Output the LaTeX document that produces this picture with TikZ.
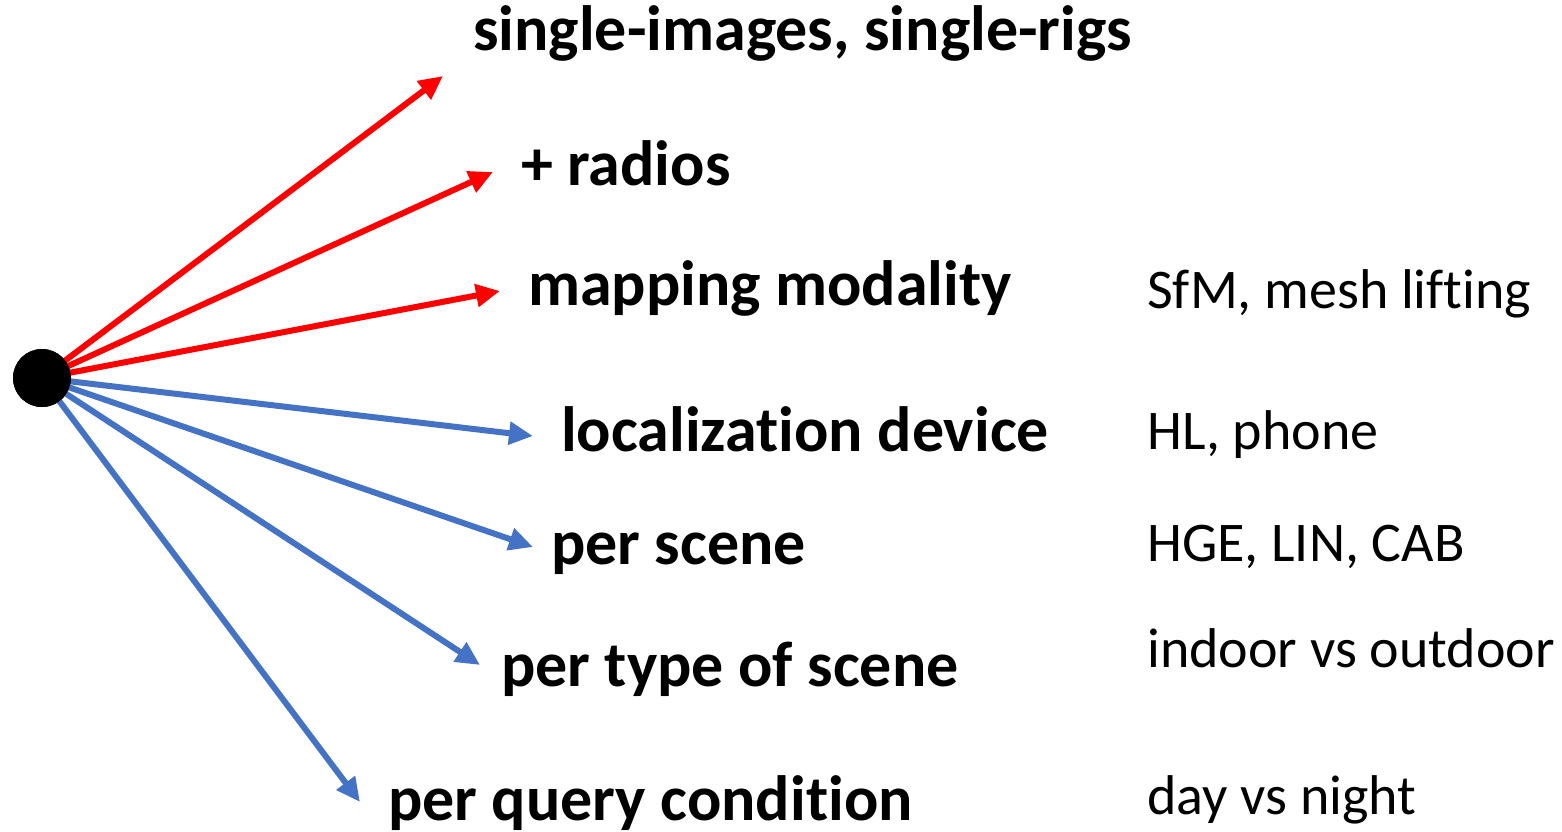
\documentclass[tikz,border=0pt]{standalone}
\usepackage{fontspec}
\setmainfont{Carlito}[Ligatures={NoCommon}]
\usetikzlibrary{arrows.meta}
\definecolor{rd}{RGB}{255,0,0}
\definecolor{bl}{RGB}{68,114,196}
\begin{document}
\begin{tikzpicture}[x=1pt,y=-1pt,
  lbl/.style={anchor=base west,inner sep=0pt,font=\fontsize{64}{76}\selectfont\bfseries},
  note/.style={anchor=base west,inner sep=0pt,font=\fontsize{56}{66}\selectfont},
  redarr/.style={draw=rd,line width=6pt,-{Triangle[length=24pt,width=22pt]}},
  bluarr/.style={draw=bl,line width=6pt,-{Triangle[length=24pt,width=22pt]}},
  dot/.style={circle,fill=black,minimum size=58pt,inner sep=0pt}]
\useasboundingbox (0,0) rectangle (1562,831);
\node[dot] (c) at (42,378) {};
\coordinate (e1) at (443,76);
\coordinate (e2) at (493,172);
\coordinate (e3) at (500,291);
\coordinate (e4) at (533,436);
\coordinate (e5) at (533,547);
\coordinate (e6) at (480,665);
\coordinate (e7) at (360,802);
\draw[redarr] (c.center) -- (e1);
\draw[redarr] (c.center) -- (e2);
\draw[redarr] (c.center) -- (e3);
\draw[bluarr] (c.center) -- (e4);
\draw[bluarr] (c.center) -- (e5);
\draw[bluarr] (c.center) -- (e6);
\draw[bluarr] (c.center) -- (e7);
\node[dot] at (c) {};
\node[lbl] (t1) at (473,50) {single-images, single-rigs};
\node[lbl] (t2) at (521,185) {+ radios};
\node[lbl] (t3) at (528,305) {mapping modality};
\node[lbl] (t4) at (561,451) {localization device};
\node[lbl] (t5) at (551,564) {per scene};
\node[lbl] (t6) at (501,686) {per type of scene};
\node[lbl] (t7) at (388,820) {per query condition};
\node[note] (n3) at (1147,308) {SfM, mesh lifting};
\node[note] (n4) at (1147,449) {HL, phone};
\node[note] (n5) at (1147,561) {HGE, LIN, CAB};
\node[note] (n6) at (1147,667) {indoor vs outdoor};
\node[note] (n7) at (1147,814) {day vs night};
\end{tikzpicture}
\end{document}
